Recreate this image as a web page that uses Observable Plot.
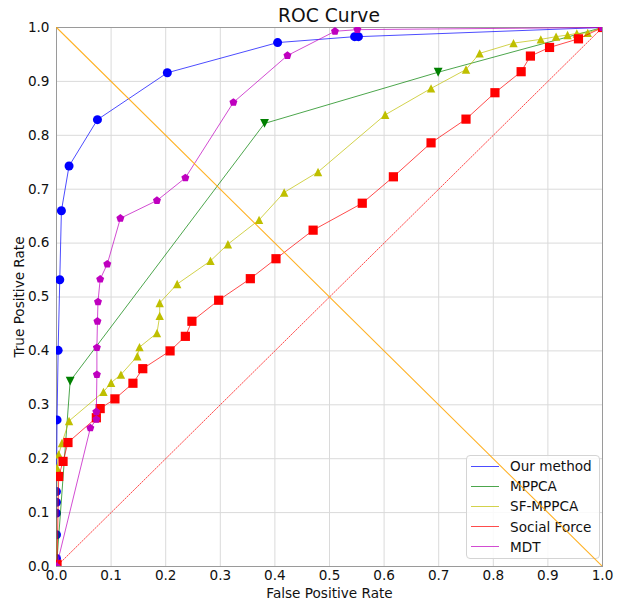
<!DOCTYPE html>
<html>
<head>
<meta charset="utf-8">
<script src="https://cdn.jsdelivr.net/npm/d3@7"></script>
<script src="https://cdn.jsdelivr.net/npm/@observablehq/plot@0.6"></script>
<style>
html, body { margin: 0; padding: 0; background: #fff; }
#wrap { position: relative; width: 626px; height: 599px; font-family: "DejaVu Sans", sans-serif; overflow: hidden; }
#wrap svg { position: absolute; left: 0; top: 0; }
#title { position: absolute; left: 56px; width: 546px; top: 7px; text-align: center; font-size: 18.7px; line-height: 1; color: #111; }
#legend { position: absolute; left: 466px; top: 455px; width: 134px; height: 104px; box-sizing: border-box; border: 1px solid #d4d4d4; border-radius: 4px; background: rgba(255,255,255,0.85); }
.item { position: absolute; left: 0; height: 20px; width: 130px; }
.sw { position: absolute; left: 4px; top: 9.5px; width: 28px; height: 0; border-top: 1.2px solid; }
.lb { position: absolute; left: 43px; top: 0; font-size: 13.6px; line-height: 20px; color: #111; white-space: nowrap; }
</style>
</head>
<body>
<div id="wrap"></div>
<script>
// ---- data ----
const seriesNames = ["Our method", "MPPCA", "SF-MPPCA", "Social Force", "MDT"];
const seriesColors = ["#0000ff", "#008000", "#bfbf00", "#ff0000", "#bf00bf"];

const ourFPR = [0, 0, 0, 0, 0, 0, 0.001, 0.003, 0.006, 0.009, 0.023, 0.075, 0.203, 0.405, 0.546, 0.553, 1.0];
const ourTPR = [0, 0.015, 0.059, 0.099, 0.119, 0.139, 0.272, 0.401, 0.532, 0.660, 0.743, 0.829, 0.916, 0.972, 0.983, 0.983, 1.0];

const mppcaFPR = [0, 0.025, 0.381, 0.699, 1.0];
const mppcaTPR = [0, 0.344, 0.822, 0.917, 1.0];

const sfFPR = [0, 0.001, 0.004, 0.010, 0.023, 0.086, 0.100, 0.118, 0.148, 0.152, 0.184, 0.189, 0.189, 0.221, 0.282, 0.314, 0.371, 0.417, 0.479, 0.602, 0.686, 0.750, 0.775, 0.837, 0.887, 0.915, 0.936, 0.953, 0.973, 1.0];
const sfTPR = [0, 0.183, 0.208, 0.229, 0.270, 0.324, 0.341, 0.356, 0.390, 0.407, 0.433, 0.465, 0.489, 0.524, 0.567, 0.598, 0.643, 0.694, 0.732, 0.838, 0.887, 0.922, 0.952, 0.971, 0.978, 0.983, 0.986, 0.989, 0.990, 1.0];

const socialFPR = [0.001, 0.004, 0.012, 0.021, 0.073, 0.080, 0.107, 0.140, 0.158, 0.208, 0.236, 0.248, 0.297, 0.355, 0.402, 0.470, 0.560, 0.617, 0.686, 0.750, 0.803, 0.851, 0.868, 0.903, 0.956, 1.0];
const socialTPR = [0.004, 0.167, 0.195, 0.230, 0.276, 0.293, 0.311, 0.340, 0.367, 0.400, 0.427, 0.455, 0.494, 0.534, 0.571, 0.624, 0.674, 0.723, 0.786, 0.830, 0.879, 0.918, 0.947, 0.963, 0.979, 1.0];

const mdtFPR = [0, 0.062, 0.073, 0.073, 0.074, 0.074, 0.075, 0.076, 0.080, 0.093, 0.117, 0.184, 0.236, 0.324, 0.423, 0.510, 0.551, 1.0];
const mdtTPR = [0, 0.257, 0.273, 0.287, 0.356, 0.406, 0.455, 0.491, 0.533, 0.561, 0.646, 0.679, 0.721, 0.861, 0.948, 0.993, 0.996, 1.0];

const chanceX = [0, 1], chanceY = [0, 1];
const eerX = [0, 1], eerY = [1, 0];

const tickValues = [0, 0.1, 0.2, 0.3, 0.4, 0.5, 0.6, 0.7, 0.8, 0.9, 1.0];

// ---- custom marker shapes ----
const rad = s => Math.sqrt(s / Math.PI);
const triUp = { draw(c, s) { const r = rad(s); c.moveTo(0, -r); c.lineTo(r, r); c.lineTo(-r, r); c.closePath(); } };
const triDown = { draw(c, s) { const r = rad(s); c.moveTo(0, r); c.lineTo(r, -r); c.lineTo(-r, -r); c.closePath(); } };
const squareSym = { draw(c, s) { const r = rad(s); c.rect(-r, -r, 2 * r, 2 * r); } };
const pentSym = { draw(c, s) { const r = rad(s); for (let i = 0; i < 5; i++) { const a = -Math.PI / 2 + i * 2 * Math.PI / 5; const x = r * Math.cos(a), y = r * Math.sin(a); if (i) c.lineTo(x, y); else c.moveTo(x, y); } c.closePath(); } };

const toRows = (xs, ys) => xs.map((x, i) => ({ x, y: ys[i] }));
const series = [
  { rows: toRows(ourFPR, ourTPR), symbol: "circle", r: 4.5 },
  { rows: toRows(mppcaFPR, mppcaTPR), symbol: triDown, r: 4.4 },
  { rows: toRows(sfFPR, sfTPR), symbol: triUp, r: 4.2 },
  { rows: toRows(socialFPR, socialTPR), symbol: squareSym, r: 4.6 },
  { rows: toRows(mdtFPR, mdtTPR), symbol: pentSym, r: 4.2 }
];

const W = 626, H = 599;
const M = { marginLeft: 56, marginRight: 24, marginTop: 27, marginBottom: 33 };
const scales = {
  x: { domain: [0, 1] },
  y: { domain: [0, 1] }
};

const marks = [
  Plot.gridX(tickValues, { stroke: "#dadada", strokeOpacity: 1, strokeWidth: 1 }),
  Plot.gridY(tickValues, { stroke: "#dadada", strokeOpacity: 1, strokeWidth: 1 }),
  Plot.frame({ stroke: "#9a9a9a", strokeWidth: 1 }),
  Plot.axisX(tickValues, { tickSize: 0, tickPadding: 4, tickFormat: d3.format(".1f"), label: "False Positive Rate", labelAnchor: "center", labelArrow: "none", labelOffset: 31 }),
  Plot.axisY(tickValues, { tickSize: 0, tickPadding: 7, tickFormat: d3.format(".1f"), label: "True Positive Rate", labelAnchor: "center", labelArrow: "none", labelOffset: 42 }),
  Plot.line(toRows(chanceX, chanceY), { x: "x", y: "y", stroke: "#ff0000", strokeWidth: 0.9, strokeDasharray: "1.5,1.5", strokeOpacity: 0.8, clip: true })
];
series.forEach((s, i) => {
  marks.push(Plot.line(s.rows, { x: "x", y: "y", stroke: seriesColors[i], strokeWidth: 1, strokeOpacity: 0.7, clip: true }));
  marks.push(Plot.dot(s.rows, { x: "x", y: "y", symbol: s.symbol, r: s.r, fill: seriesColors[i], stroke: "none", clip: true }));
});

const chart = Plot.plot({
  width: W, height: H, ...M, ...scales,
  style: { fontFamily: "DejaVu Sans", fontSize: "13.6px", color: "#111", background: "transparent", overflow: "visible" },
  marks
});

const overlay = Plot.plot({
  width: W, height: H, ...M, ...scales,
  axis: null,
  style: { background: "transparent", overflow: "visible", pointerEvents: "none" },
  marks: [
    Plot.line(toRows(eerX, eerY), { x: "x", y: "y", stroke: "#ffa500", strokeWidth: 1.1, strokeOpacity: 0.85, clip: true })
  ]
});

const wrap = document.getElementById("wrap");
wrap.appendChild(chart);

const title = document.createElement("div");
title.id = "title";
title.textContent = "ROC Curve";
wrap.appendChild(title);

const legend = document.createElement("div");
legend.id = "legend";
seriesNames.forEach((name, i) => {
  const it = document.createElement("div");
  it.className = "item";
  it.style.top = (i * 20.2) + "px";
  const sw = document.createElement("div");
  sw.className = "sw";
  sw.style.borderTopColor = seriesColors[i];
  sw.style.opacity = 0.7;
  const lb = document.createElement("div");
  lb.className = "lb";
  lb.textContent = name;
  it.appendChild(sw); it.appendChild(lb);
  legend.appendChild(it);
});
wrap.appendChild(legend);
wrap.appendChild(overlay);
</script>
</body>
</html>
